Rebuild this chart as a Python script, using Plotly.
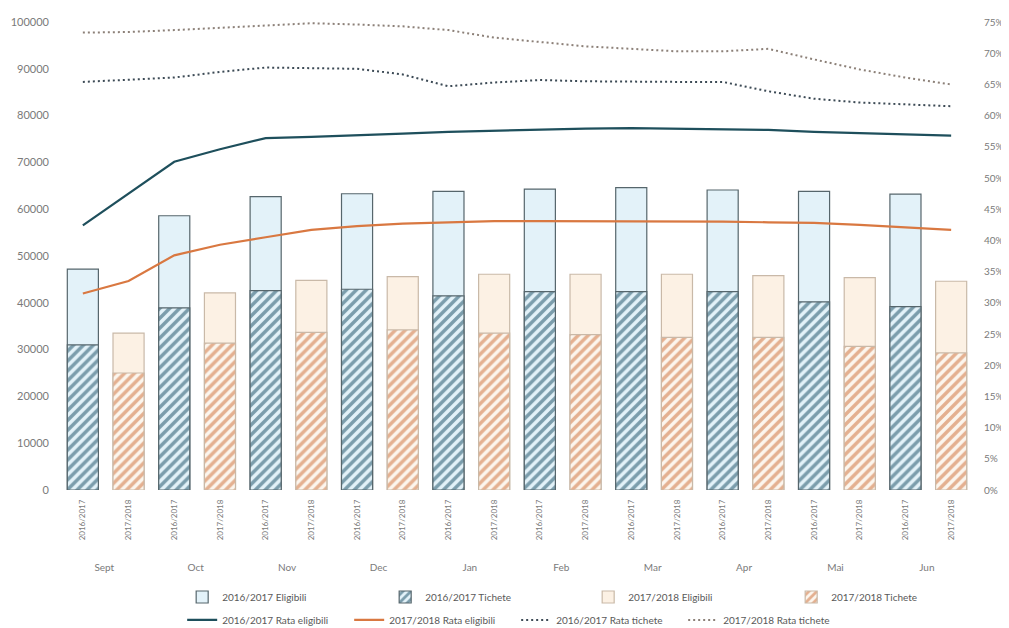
import plotly.graph_objects as go

months = ["Sept", "Oct", "Nov", "Dec", "Jan", "Feb", "Mar", "Apr", "Mai", "Jun"]
years = ["2016/2017", "2017/2018"]

elig_1617 = [47200, 58600, 62700, 63300, 63800, 64300, 64600, 64100, 63800, 63200]
tich_1617 = [31000, 38900, 42600, 42900, 41500, 42400, 42400, 42400, 40200, 39200]
elig_1718 = [33500, 42100, 44800, 45600, 46100, 46100, 46100, 45800, 45400, 44600]
tich_1718 = [25000, 31400, 33700, 34200, 33500, 33200, 32600, 32600, 30700, 29300]

# rates, one value per category (month x school year)
rate_elig_1617 = [0.424, 0.475, 0.526, 0.546, 0.564, 0.566, 0.568, 0.571, 0.574, 0.576,
                  0.578, 0.579, 0.580, 0.579, 0.578, 0.577, 0.574, 0.572, 0.569, 0.568]
rate_elig_1718 = [0.315, 0.335, 0.376, 0.393, 0.405, 0.417, 0.423, 0.427, 0.429, 0.431,
                  0.431, 0.431, 0.431, 0.430, 0.430, 0.429, 0.428, 0.425, 0.421, 0.417]
rate_tich_1617 = [0.654, 0.657, 0.661, 0.670, 0.677, 0.676, 0.675, 0.666, 0.647, 0.653,
                  0.657, 0.655, 0.654, 0.654, 0.654, 0.639, 0.627, 0.621, 0.618, 0.615]
rate_tich_1718 = [0.733, 0.734, 0.737, 0.741, 0.744, 0.748, 0.746, 0.743, 0.737, 0.725,
                  0.718, 0.711, 0.707, 0.703, 0.703, 0.707, 0.690, 0.674, 0.661, 0.650]

# month labels: shown lower, a little larger than the school-year labels
month_labels = ["<br><br><span style='font-size:10px'>" + m + "</span>" for m in months]
cat_months = [m for m in month_labels for _ in years]
cat_years = years * len(months)

FONT = "Lato"
GRAY = "#7a7a7a"

fig = go.Figure()

fig.add_trace(go.Bar(
    name="2016/2017 Eligibili", x=[month_labels, [years[0]] * 10], y=elig_1617,
    marker=dict(color="#e3f2f9", line=dict(color="#56666c", width=1.2)),
    legend="legend"))
fig.add_trace(go.Bar(
    name="2016/2017 Tichete", x=[month_labels, [years[0]] * 10], y=tich_1617,
    marker=dict(color="#e3f2f9", line=dict(color="#56666c", width=1.2),
                pattern=dict(shape="/", fgcolor="#144860", bgcolor="#e3f2f9",
                             size=7, solidity=0.5)),
    legend="legend"))
fig.add_trace(go.Bar(
    name="2017/2018 Eligibili", x=[month_labels, [years[1]] * 10], y=elig_1718,
    marker=dict(color="#fcf1e4", line=dict(color="#c9b9a8", width=1.2)),
    legend="legend"))
fig.add_trace(go.Bar(
    name="2017/2018 Tichete", x=[month_labels, [years[1]] * 10], y=tich_1718,
    marker=dict(color="#fcf1e4", line=dict(color="#c9b9a8", width=1.2),
                pattern=dict(shape="/", fgcolor="#cc6a32", bgcolor="#fcf6ee",
                             size=7, solidity=0.5)),
    legend="legend"))

fig.add_trace(go.Scatter(
    name="2016/2017 Rata eligibili", x=[cat_months, cat_years], y=rate_elig_1617,
    mode="lines", line=dict(color="#1e4f5c", width=2.2), yaxis="y2", legend="legend2"))
fig.add_trace(go.Scatter(
    name="2017/2018 Rata eligibili", x=[cat_months, cat_years], y=rate_elig_1718,
    mode="lines", line=dict(color="#d97841", width=2.2), yaxis="y2", legend="legend2"))
fig.add_trace(go.Scatter(
    name="2016/2017 Rata tichete", x=[cat_months, cat_years], y=rate_tich_1617,
    mode="lines", line=dict(color="#3c4a55", width=2, dash="2px,3px"), yaxis="y2",
    legend="legend2"))
fig.add_trace(go.Scatter(
    name="2017/2018 Rata tichete", x=[cat_months, cat_years], y=rate_tich_1718,
    mode="lines", line=dict(color="#8c8078", width=2, dash="2px,3px"), yaxis="y2",
    legend="legend2"))

# the page body adds an 8px offset, so the figure is laid out 8px smaller
fig.update_layout(
    width=1001, height=620,
    margin=dict(l=52, r=35, t=14, b=138, autoexpand=False),
    paper_bgcolor="white", plot_bgcolor="white",
    barmode="overlay", bargap=0.32,
    font=dict(family=FONT, size=10, color=GRAY),
    showlegend=True,
    xaxis=dict(type="multicategory", tickangle=-90, showdividers=False,
               showgrid=False, showline=False, ticks="", zeroline=False,
               automargin=False, ticklabelstandoff=7,
               tickfont=dict(family=FONT, size=8, color=GRAY)),
    yaxis=dict(range=[0, 100000], dtick=10000, showgrid=False, zeroline=False,
               showline=False, ticks="", automargin=False, ticklabelstandoff=10,
               tickfont=dict(family=FONT, size=11, color=GRAY), tickformat="d"),
    yaxis2=dict(range=[0, 0.75], dtick=0.05, overlaying="y", side="right",
                showgrid=False, zeroline=False, showline=False, ticks="",
                automargin=False, ticklabelstandoff=9,
                tickformat=".0%", tickfont=dict(family=FONT, size=10, color=GRAY)),
    legend=dict(orientation="h", xref="container", yref="container",
                x=0.174, xanchor="left", y=0.05, yanchor="middle",
                font=dict(family=FONT, size=10, color="#595959"),
                entrywidth=158, entrywidthmode="pixels", bgcolor="rgba(0,0,0,0)"),
    legend2=dict(orientation="h", xref="container", yref="container",
                 x=0.174, xanchor="left", y=0.013, yanchor="middle",
                 font=dict(family=FONT, size=10, color="#595959"),
                 entrywidth=122, entrywidthmode="pixels", bgcolor="rgba(0,0,0,0)"),
)

fig.write_html("out.html")
